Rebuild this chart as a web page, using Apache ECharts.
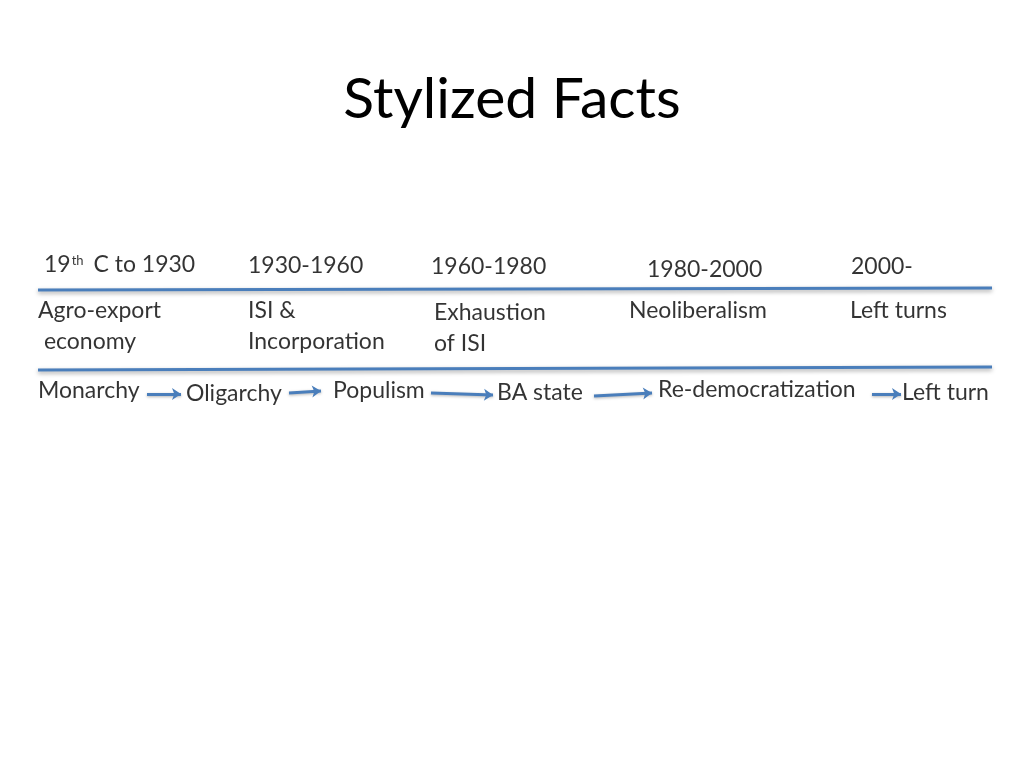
<!DOCTYPE html>
<html><head><meta charset="utf-8">
<script src="https://cdn.jsdelivr.net/npm/echarts@6/dist/echarts.min.js"></script>
<style>body{margin:0}#main{width:1024px;height:768px}</style>
</head><body><div id="main"></div>
<script>
// text items: [x, y, text]
var periods = [[44, 265, '{n|19}{s|th}{n| C to 1930}'], [248, 266, '1930-1960'], [431, 267, '1960-1980'], [647, 270, '1980-2000'], [851, 267, '2000-']];
var economy = [[38, 326, 'Agro-export\n economy'], [248, 326, 'ISI &\nIncorporation'], [434, 328, 'Exhaustion\nof ISI'], [629, 311, 'Neoliberalism'], [850, 311, 'Left turns']];
var politics = [[38, 391, 'Monarchy'], [186, 394, 'Oligarchy'], [333, 391, 'Populism'], [497, 393, 'BA state'], [658, 390, 'Re-democratization'], [902, 393, 'Left turn']];
var rules = [[[38, 290], [992, 288]], [[38, 370], [992, 367]]];
var arrows = [[[147, 394], [181, 394]], [[289, 393], [321, 391]], [[431, 393], [493, 395]], [[594, 396], [652, 393]], [[872, 394], [901, 394]]];

var myChart = echarts.init(document.getElementById('main'));
function textSeries(items) {
    return {
        type: 'scatter', symbolSize: 0, silent: true,
        data: items.map(function (d) { return {value: [d[0], d[1]], name: d[2]}; }),
        label: {
            show: true, position: 'right', distance: 0, formatter: '{b}',
            fontFamily: 'Lato', fontSize: 23, color: '#000', lineHeight: 31,
            rich: {n: {fontFamily: 'Lato', fontSize: 23, color: '#000'}, s: {fontFamily: 'Lato', fontSize: 13, color: '#000', padding: [0, 4, 8, 1]}}
        }
    };
}
var option = {
    animation: false,
    title: {text: 'Stylized Facts', left: 'center', top: 66, textStyle: {fontFamily: 'Lato', fontSize: 57, fontWeight: 'normal', color: '#000'}},
    grid: {left: 0, right: 0, top: 0, bottom: 0},
    xAxis: {type: 'value', min: 0, max: 1024, show: false},
    yAxis: {type: 'value', min: 0, max: 768, inverse: true, show: false},
    series: [
        {
            type: 'lines', coordinateSystem: 'cartesian2d', silent: true,
            data: rules.map(function (r) { return {coords: r}; }),
            lineStyle: {color: '#4a7ebb', width: 3, opacity: 1, shadowColor: 'rgba(0,0,0,0.35)', shadowBlur: 4, shadowOffsetY: 2}
        },
        {
            type: 'lines', coordinateSystem: 'cartesian2d', silent: true,
            symbol: ['none', 'arrow'], symbolSize: 9,
            data: arrows.map(function (r) { return {coords: r}; }),
            lineStyle: {color: '#4a7ebb', width: 3, opacity: 1, shadowColor: 'rgba(0,0,0,0.3)', shadowBlur: 3, shadowOffsetY: 1}
        },
        textSeries(periods), textSeries(economy), textSeries(politics)
    ]
};
myChart.setOption(option);
</script></body></html>
